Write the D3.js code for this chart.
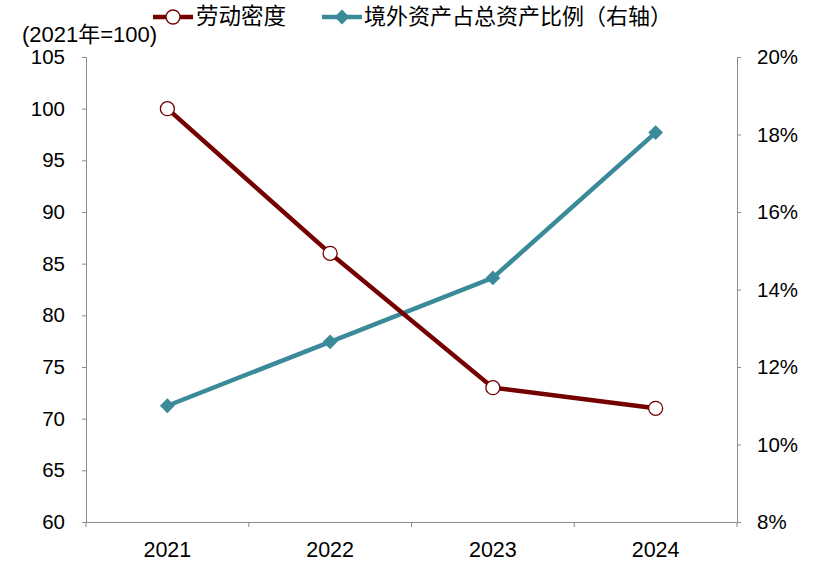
<!DOCTYPE html>
<html><head><meta charset="utf-8">
<script src="https://cdn.jsdelivr.net/npm/d3@7"></script>
<style>body{margin:0;background:#fff}svg{display:block;font-family:"Liberation Sans",Arial,"Noto Sans CJK SC",sans-serif}</style>
</head><body><svg id="c" width="815" height="569"></svg>
<script>
const years = ["2021","2022","2023","2024"];
const laborDensity = [100, 86, 73, 71];
const overseasShare = [11.0, 12.65, 14.3, 18.05];
const leftTicks = [60,65,70,75,80,85,90,95,100,105];
const rightTicks = [8,10,12,14,16,18,20];
const seriesNames = ["劳动密度","境外资产占总资产比例（右轴）"];
const unitLabel = "(2021年=100)";

const svg = d3.select("#c");
const L=86, R=737, T=57, B=522;
const x = d3.scaleBand().domain(years).range([L,R]);
const yL = d3.scaleLinear().domain([60,105]).range([B,T]);
const yR = d3.scaleLinear().domain([8,20]).range([B,T]);
const red="#750000", teal="#3b8a99", axisC="#8c8c8c";
const font="'Liberation Sans',Arial,'Noto Sans CJK SC',sans-serif";

const gl = svg.append("g").attr("transform",`translate(${L},0)`).call(d3.axisLeft(yL).tickValues(leftTicks).tickSize(4).tickPadding(17));
const gr = svg.append("g").attr("transform",`translate(${R},0)`).call(d3.axisRight(yR).tickValues(rightTicks).tickFormat(d=>d+"%").tickSize(4).tickPadding(16));
const gx = svg.append("g").attr("transform",`translate(0,${B})`).call(d3.axisBottom(x).tickSize(0).tickPadding(20));
svg.append("g").selectAll("line").data(d3.range(years.length+1)).join("line")
  .attr("x1",i=>L+i*x.step()).attr("x2",i=>L+i*x.step()).attr("y1",B).attr("y2",B+5).attr("stroke",axisC).attr("stroke-width",1);
[[gl,20.5],[gr,20.5],[gx,21.5]].forEach(([g,s])=>{
  g.selectAll("path,line").attr("stroke",axisC);
  g.selectAll("text").attr("font-size",s).attr("fill","#000").attr("font-family",font);
});
gx.select(".domain").attr("d",`M${L},0.5H${R}`);

const cx = i => x(years[i])+x.bandwidth()/2;
const lineL = d3.line().x((d,i)=>cx(i)).y(d=>yL(d));
const lineR = d3.line().x((d,i)=>cx(i)).y(d=>yR(d));

svg.append("path").datum(overseasShare).attr("d",lineR).attr("fill","none").attr("stroke",teal).attr("stroke-width",4.5);
svg.append("path").datum(laborDensity).attr("d",lineL).attr("fill","none").attr("stroke",red).attr("stroke-width",4.5);

const diamond = d3.symbol().type(d3.symbolSquare).size(110);
svg.append("g").selectAll("path").data(overseasShare).join("path")
  .attr("d",diamond).attr("transform",(d,i)=>`translate(${cx(i)},${yR(d)}) rotate(45)`).attr("fill",teal);
svg.append("g").selectAll("circle").data(laborDensity).join("circle")
  .attr("cx",(d,i)=>cx(i)).attr("cy",d=>yL(d)).attr("r",7)
  .attr("fill","#fff").attr("stroke",red).attr("stroke-width",1.3);

svg.append("text").attr("x",22).attr("y",42).attr("font-size",22).attr("font-family",font).text(unitLabel);

const lg = svg.append("g");
lg.append("line").attr("x1",153).attr("x2",193).attr("y1",17).attr("y2",17).attr("stroke",red).attr("stroke-width",4.5);
lg.append("circle").attr("cx",173).attr("cy",17).attr("r",7).attr("fill","#fff").attr("stroke",red).attr("stroke-width",1.3);
lg.append("text").attr("x",196).attr("y",24).attr("font-size",22.5).attr("font-family",font).text(seriesNames[0]);
lg.append("line").attr("x1",322).attr("x2",362).attr("y1",17).attr("y2",17).attr("stroke",teal).attr("stroke-width",4.5);
lg.append("path").attr("d",diamond).attr("transform","translate(342,17) rotate(45)").attr("fill",teal);
lg.append("text").attr("x",364).attr("y",24).attr("font-size",22).attr("font-family",font).text(seriesNames[1]);
</script></body></html>
